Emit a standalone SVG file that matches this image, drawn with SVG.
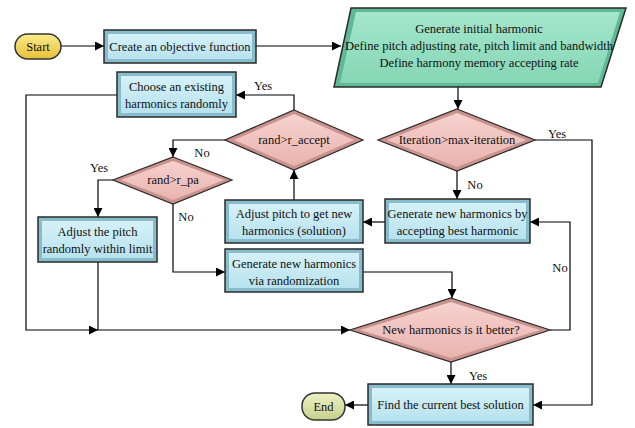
<svg xmlns="http://www.w3.org/2000/svg" width="635" height="428" viewBox="0 0 635 428">
  <defs>
    <linearGradient id="boxIn" x1="0" y1="0" x2="0" y2="1">
      <stop offset="0" stop-color="#d6f1f8"/>
      <stop offset="1" stop-color="#b7e2ee"/>
    </linearGradient>
    <linearGradient id="dmdIn" x1="0" y1="0" x2="0" y2="1">
      <stop offset="0" stop-color="#f6d2cf"/>
      <stop offset="1" stop-color="#e9b3ae"/>
    </linearGradient>
    <linearGradient id="ioIn" x1="0" y1="0" x2="0" y2="1">
      <stop offset="0" stop-color="#a4e6cc"/>
      <stop offset="1" stop-color="#86d6b6"/>
    </linearGradient>
    <linearGradient id="startFill" x1="0" y1="0" x2="0" y2="1">
      <stop offset="0" stop-color="#fbeb8a"/>
      <stop offset="1" stop-color="#e6c13a"/>
    </linearGradient>
    <linearGradient id="endFill" x1="0" y1="0" x2="0" y2="1">
      <stop offset="0" stop-color="#eef2c4"/>
      <stop offset="1" stop-color="#c6d08c"/>
    </linearGradient>
    <marker id="arr" viewBox="0 0 10 10" refX="10" refY="5" markerWidth="10" markerHeight="9" markerUnits="userSpaceOnUse" orient="auto">
      <path d="M0,0 L10,5 L0,10 Z" fill="#000"/>
    </marker>
  </defs>
  <style>
    text { font-size: 12.5px; fill: #111; text-anchor: middle; }
    .box-out { fill: #86bccb; stroke: #2a2a2a; stroke-width: 1.5; }
    .box-in { fill: url(#boxIn); stroke: none; }
    .dmd-out { fill: #c9928d; stroke: #2a2a2a; stroke-width: 1.2; }
    .dmd-in { fill: url(#dmdIn); stroke: none; }
    .io-out { fill: #5fb896; stroke: #2a2a2a; stroke-width: 1.5; }
    .io-in { fill: url(#ioIn); stroke: none; }
    .edge { fill: none; stroke: #000; stroke-width: 1.2; }
  </style>
  <rect width="635" height="428" fill="#ffffff"/>

  <!-- connectors -->
  <g id="connectors">
    <path class="edge" d="M61,46 H104" marker-end="url(#arr)"/>
    <path class="edge" d="M256,46 H341" stroke-width="2" marker-end="url(#arr)"/>
    <path class="edge" d="M458,87 V109" marker-end="url(#arr)"/>
    <path class="edge" d="M535,140 H592 V405 H533" marker-end="url(#arr)"/>
    <path class="edge" d="M457,170 V199" marker-end="url(#arr)"/>
    <path class="edge" d="M385,222 H363" marker-end="url(#arr)"/>
    <path class="edge" d="M294,200 V170" marker-end="url(#arr)"/>
    <path class="edge" d="M294,110 V95 H236" marker-end="url(#arr)"/>
    <path class="edge" d="M225,140 H173 V157" marker-end="url(#arr)"/>
    <path class="edge" d="M113,180 H98 V217" marker-end="url(#arr)"/>
    <path class="edge" d="M173,204 V272 H225" marker-end="url(#arr)"/>
    <path class="edge" d="M117,95 H26 V330 H98" marker-end="url(#arr)"/>
    <path class="edge" d="M98,262 V330"/>
    <path class="edge" d="M98,330 H350" marker-end="url(#arr)"/>
    <path class="edge" d="M363,272 H452 V298" marker-end="url(#arr)"/>
    <path class="edge" d="M550,330 H570 V222 H530" marker-end="url(#arr)"/>
    <path class="edge" d="M451,362 V384" marker-end="url(#arr)"/>
    <path class="edge" d="M368,405 H345" marker-end="url(#arr)"/>
    <text font-family="Liberation Serif" x="263" y="90">Yes</text>
    <text font-family="Liberation Serif" x="202" y="157">No</text>
    <text font-family="Liberation Serif" x="99" y="172">Yes</text>
    <text font-family="Liberation Serif" x="186" y="221">No</text>
    <text font-family="Liberation Serif" x="475" y="189">No</text>
    <text font-family="Liberation Serif" x="557" y="138">Yes</text>
    <text font-family="Liberation Serif" x="560" y="272">No</text>
    <text font-family="Liberation Serif" x="478" y="380">Yes</text>
  </g>

  <!-- terminals -->
  <g id="start">
    <rect x="15" y="34" width="46" height="25" rx="12.5" fill="url(#startFill)" stroke="#333" stroke-width="1.5"/>
    <text font-family="Liberation Serif" x="38" y="50.5">Start</text>
  </g>
  <g id="end">
    <rect x="302" y="393" width="43" height="27" rx="13" fill="url(#endFill)" stroke="#333" stroke-width="1.5"/>
    <text font-family="Liberation Serif" x="323.5" y="410.5">End</text>
  </g>

  <!-- process boxes -->
  <g id="create-objective">
    <rect class="box-out" x="104" y="30" width="152" height="33"/>
    <rect class="box-in" x="108" y="34" width="144" height="25"/>
    <text font-family="Liberation Serif" x="180" y="50.5">Create an objective function</text>
  </g>
  <g id="init-harmonic">
    <polygon class="io-out" points="351,8 626,8 601,87 334,87"/>
    <polygon class="io-in" points="356,12 620,12 598,83 340,83"/>
    <text font-family="Liberation Serif" x="479" y="33">Generate initial harmonic</text>
    <text font-family="Liberation Serif" x="479" y="50">Define pitch adjusting rate, pitch limit and bandwidth</text>
    <text font-family="Liberation Serif" x="479" y="67">Define harmony memory accepting rate</text>
  </g>
  <g id="choose-existing">
    <rect class="box-out" x="117" y="72" width="119" height="45"/>
    <rect class="box-in" x="121" y="76" width="111" height="37"/>
    <text font-family="Liberation Serif" x="176.5" y="91">Choose an existing</text>
    <text font-family="Liberation Serif" x="176.5" y="108">harmonics randomly</text>
  </g>
  <g id="iteration-check">
    <polygon class="dmd-out" points="457,109 535,140 457,171 378,140"/>
    <polygon class="dmd-in" points="457,113 526,140 457,167 387,140"/>
    <text font-family="Liberation Serif" x="457" y="144">Iteration&gt;max-iteration</text>
  </g>
  <g id="accept-check">
    <polygon class="dmd-out" points="294,110 363,140 294,170 225,140"/>
    <polygon class="dmd-in" points="294,114 354,140 294,166 234,140"/>
    <text font-family="Liberation Serif" x="294" y="144">rand&gt;r_accept</text>
  </g>
  <g id="pa-check">
    <polygon class="dmd-out" points="173,157 232,180 173,204 113,180"/>
    <polygon class="dmd-in" points="173,161 224,180 173,200 121,180"/>
    <text font-family="Liberation Serif" x="173" y="184">rand&gt;r_pa</text>
  </g>
  <g id="adjust-pitch-solution">
    <rect class="box-out" x="225" y="200" width="138" height="43"/>
    <rect class="box-in" x="229" y="204" width="130" height="35"/>
    <text font-family="Liberation Serif" x="294" y="218">Adjust pitch to get new</text>
    <text font-family="Liberation Serif" x="294" y="235">harmonics (solution)</text>
  </g>
  <g id="accept-best">
    <rect class="box-out" x="385" y="199" width="145" height="44"/>
    <rect class="box-in" x="389" y="203" width="137" height="36"/>
    <text font-family="Liberation Serif" x="457.5" y="218">Generate new harmonics by</text>
    <text font-family="Liberation Serif" x="457.5" y="235">accepting best harmonic</text>
  </g>
  <g id="adjust-pitch-limit">
    <rect class="box-out" x="38" y="217" width="119" height="45"/>
    <rect class="box-in" x="42" y="221" width="111" height="37"/>
    <text font-family="Liberation Serif" x="97.5" y="236">Adjust the pitch</text>
    <text font-family="Liberation Serif" x="97.5" y="253">randomly within limit</text>
  </g>
  <g id="randomize">
    <rect class="box-out" x="225" y="249" width="138" height="43"/>
    <rect class="box-in" x="229" y="253" width="130" height="35"/>
    <text font-family="Liberation Serif" x="294" y="268">Generate new harmonics</text>
    <text font-family="Liberation Serif" x="294" y="285">via randomization</text>
  </g>
  <g id="better-check">
    <polygon class="dmd-out" points="451,298 550,330 451,362 350,330"/>
    <polygon class="dmd-in" points="451,302 540,330 451,358 360,330"/>
    <text font-family="Liberation Serif" x="451" y="334">New harmonics is it better?</text>
  </g>
  <g id="current-best">
    <rect class="box-out" x="368" y="384" width="165" height="41"/>
    <rect class="box-in" x="372" y="388" width="157" height="33"/>
    <text font-family="Liberation Serif" x="450.5" y="409">Find the current best solution</text>
  </g>
</svg>
